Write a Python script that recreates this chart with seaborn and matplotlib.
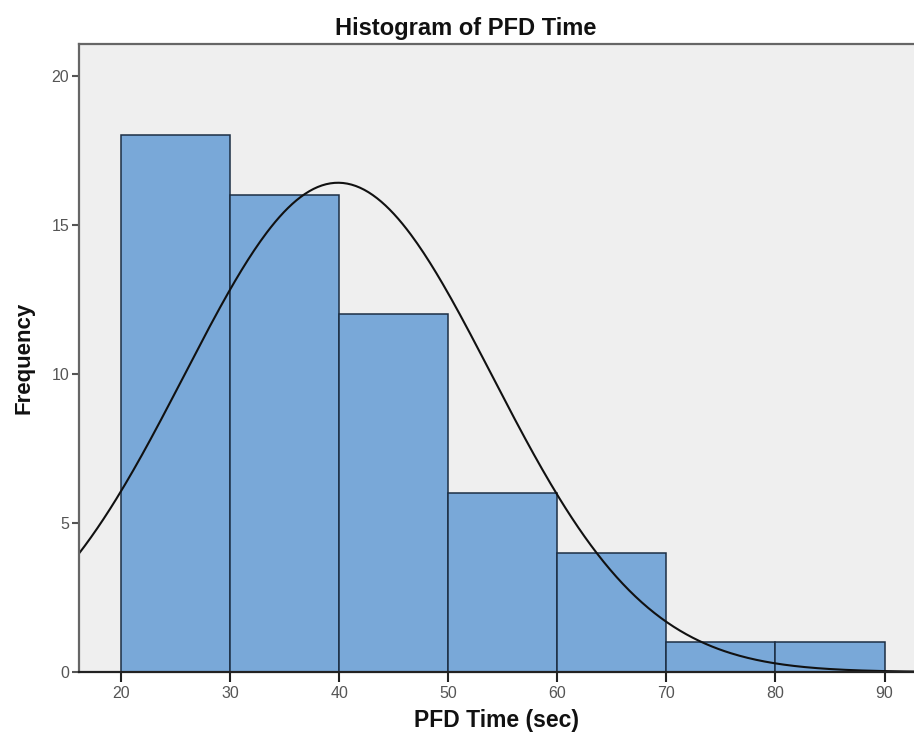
import numpy as np
import pandas as pd
import matplotlib
matplotlib.use("Agg")
import matplotlib.pyplot as plt
import seaborn as sns

# Data
bin_edges = [20, 30, 40, 50, 60, 70, 80, 90]
counts = [18, 16, 12, 6, 4, 1, 1]
fit_mean = 39.9
fit_sd = 14.1
x_ticks = [20, 30, 40, 50, 60, 70, 80, 90]
y_ticks = [0, 5, 10, 15, 20]

sns.set_style("white")
plt.rcParams['font.family'] = ['Liberation Sans', 'DejaVu Sans']

fig = plt.figure(figsize=(9.14, 7.43), dpi=100)
ax = fig.add_axes([0.0864, 0.0956, 0.9136, 0.8454])
ax.set_facecolor('#efefef')

centers = [(bin_edges[i] + bin_edges[i + 1]) / 2 for i in range(len(counts))]
df = pd.DataFrame({'time': centers, 'n': counts})
sns.histplot(data=df, x='time', weights='n', bins=bin_edges, ax=ax,
             color='#79a8d8', alpha=1.0, edgecolor='#1c2e44', linewidth=1.1)

n_total = sum(counts)
width = bin_edges[1] - bin_edges[0]
xs = np.linspace(15.5, 93, 400)
ys = n_total * width / (fit_sd * np.sqrt(2 * np.pi)) * np.exp(-0.5 * ((xs - fit_mean) / fit_sd) ** 2)
sns.lineplot(x=xs, y=ys, ax=ax, color='#111111', linewidth=1.5)

ax.set_xlim(16.15, 92.7)
ax.set_ylim(0, 21.07)
ax.set_xticks(x_ticks)
ax.set_yticks(y_ticks)
ax.tick_params(axis='both', bottom=True, left=True, labelsize=11.5,
               width=1.5, direction='out')
ax.tick_params(axis='x', length=7, pad=3, color='#222222')
ax.tick_params(axis='y', length=5, pad=2, color='#555555')
for lbl in ax.get_xticklabels() + ax.get_yticklabels():
    lbl.set_color('#555555')
for s in ['left', 'top']:
    ax.spines[s].set_color('#666666')
    ax.spines[s].set_linewidth(1.6)
ax.spines['right'].set_visible(False)
ax.spines['bottom'].set_color('#222222')
ax.spines['bottom'].set_linewidth(1.6)

fig.text(0.51, 0.962, 'Histogram of PFD Time', fontsize=17, fontweight='bold',
         color='#111111', ha='center', va='center')
ax.set_xlabel('PFD Time (sec)', fontsize=16.5, fontweight='bold', color='#111111', labelpad=6)
ax.set_ylabel('Frequency', fontsize=16, fontweight='bold', color='#111111', labelpad=12)

fig.savefig('out.png', dpi=100, facecolor='white')
